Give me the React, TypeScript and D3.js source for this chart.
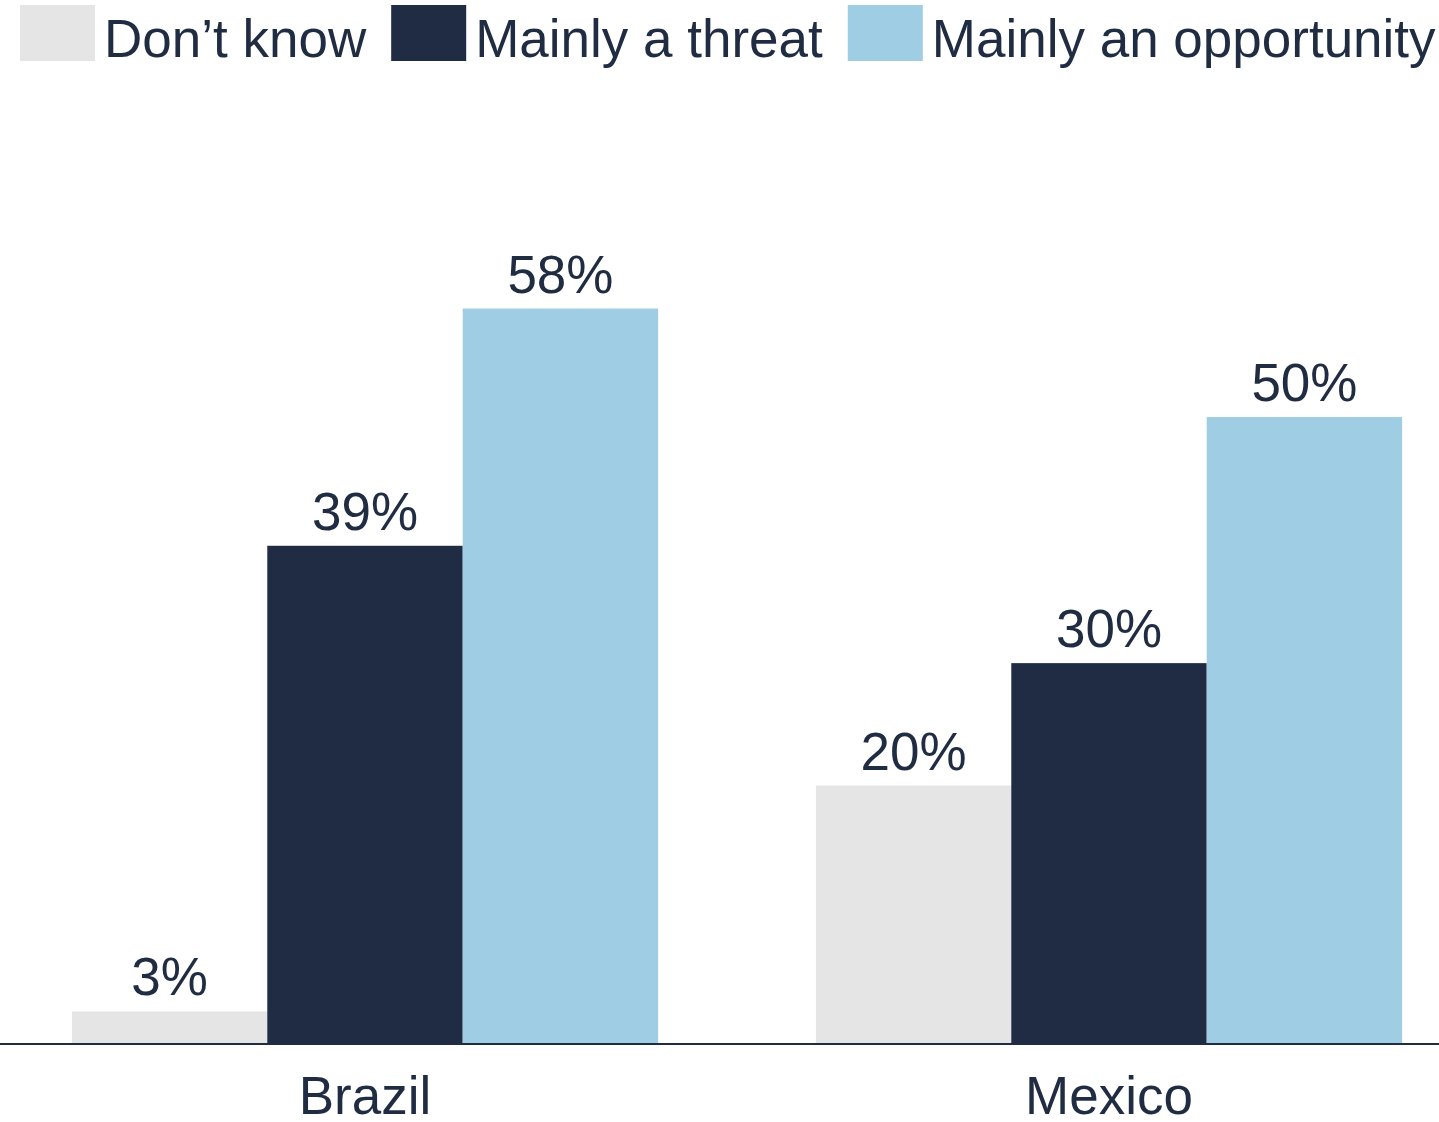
import React, { useEffect, useRef } from "react";
import * as d3 from "d3";

const categories = ["Brazil", "Mexico"];
const seriesNames = ["Don’t know", "Mainly a threat", "Mainly an opportunity"];
const seriesColors = ["#e5e5e5", "#1f2c43", "#9fcde3"];
const dontKnow = [2.5, 20.4];
const mainlyThreat = [39.4, 30.1];
const mainlyOpportunity = [58.2, 49.6];

const W = 1439;
const H = 1122;
const TEXT = "#1f2c42";
const FONT = "'Liberation Sans', Arial, Helvetica, sans-serif";

export default function App() {
  const ref = useRef<SVGSVGElement | null>(null);

  useEffect(() => {
    document.body.style.margin = "0";
    const svg = d3.select(ref.current);
    svg.selectAll("*").remove();

    const seriesValues = [dontKnow, mainlyThreat, mainlyOpportunity];
    const baseY = 1043;

    const x0 = d3
      .scaleBand<string>()
      .domain(categories)
      .range([-7, 1481])
      .paddingInner(0.212)
      .paddingOuter(0.106);
    const x1 = d3
      .scaleBand<string>()
      .domain(seriesNames)
      .range([0, x0.bandwidth()])
      .padding(0);
    const y = d3.scaleLinear().domain([0, 60]).range([baseY, baseY - 757.2]);
    const fmt = d3.format(".0f");

    const rows = categories.flatMap((c, ci) =>
      seriesNames.map((s, si) => ({ c, s, si, v: seriesValues[si][ci] }))
    );

    const g = svg.append("g");
    g.selectAll("rect.bar")
      .data(rows)
      .join("rect")
      .attr("class", "bar")
      .attr("x", (d) => (x0(d.c) as number) + (x1(d.s) as number))
      .attr("width", x1.bandwidth())
      .attr("y", (d) => y(d.v))
      .attr("height", (d) => y(0) - y(d.v))
      .attr("fill", (d) => seriesColors[d.si]);

    g.selectAll("text.val")
      .data(rows)
      .join("text")
      .attr("class", "val")
      .attr("x", (d) => (x0(d.c) as number) + (x1(d.s) as number) + x1.bandwidth() / 2)
      .attr("y", (d) => y(d.v) - 16)
      .attr("text-anchor", "middle")
      .attr("font-family", FONT)
      .attr("font-size", 53)
      .attr("fill", TEXT)
      .text((d) => fmt(d.v) + "%");

    // baseline
    svg
      .append("line")
      .attr("x1", 0)
      .attr("x2", W)
      .attr("y1", baseY + 1)
      .attr("y2", baseY + 1)
      .attr("stroke", "#1f2c43")
      .attr("stroke-width", 2);

    // category labels
    svg
      .selectAll("text.cat")
      .data(categories)
      .join("text")
      .attr("class", "cat")
      .attr("x", (d) => (x0(d) as number) + x0.bandwidth() / 2)
      .attr("y", 1114)
      .attr("text-anchor", "middle")
      .attr("font-family", FONT)
      .attr("font-size", 53)
      .attr("fill", TEXT)
      .text((d) => d);

    // legend
    const legend = svg.append("g");
    let lx = 20;
    seriesNames.forEach((name, i) => {
      legend
        .append("rect")
        .attr("x", lx)
        .attr("y", 5)
        .attr("width", 75)
        .attr("height", 56)
        .attr("fill", seriesColors[i]);
      const t = legend
        .append("text")
        .attr("x", lx + 84)
        .attr("y", 57)
        .attr("font-family", FONT)
        .attr("font-size", 53)
        .attr("fill", TEXT)
        .text(name);
      const w = (t.node() as SVGTextElement).getComputedTextLength();
      lx = lx + 84 + w + 25;
    });
  }, []);

  return <svg ref={ref} width={W} height={H} style={{ display: "block" }} />;
}
